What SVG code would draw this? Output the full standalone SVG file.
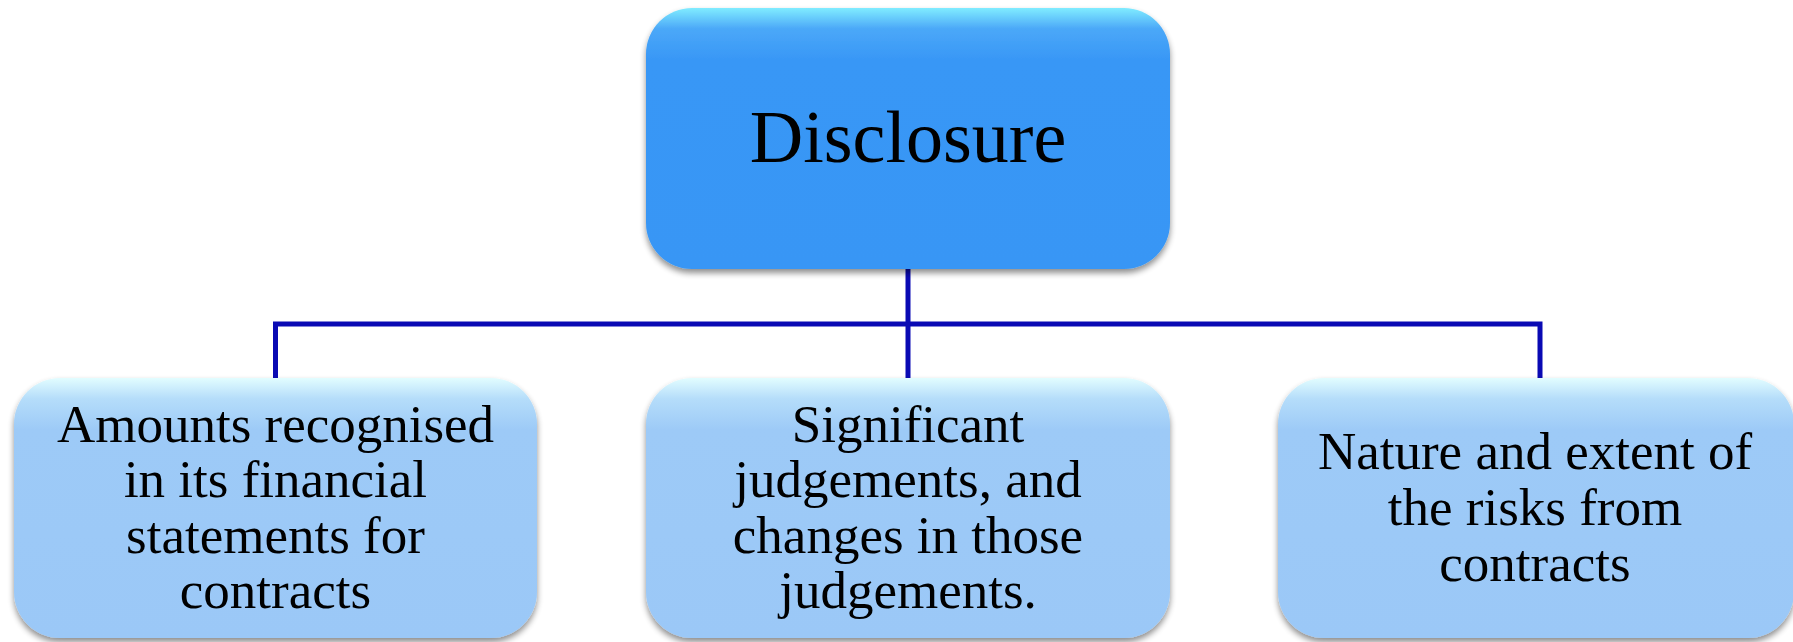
<svg xmlns="http://www.w3.org/2000/svg" width="1793" height="642" viewBox="0 0 1793 642">
<style>
  .lbl { font-family: "Liberation Serif", "Times New Roman", serif; fill: #000; text-anchor: middle; }
  .top { font-size: 74px; }
  .sub { font-size: 53px; }
  .conn { stroke: #0A0AB4; stroke-width: 5; fill: none; }
</style>
<defs>
  <linearGradient id="gTop" x1="0" y1="0" x2="0" y2="1">
    <stop offset="0" stop-color="#80ECFF"/>
    <stop offset="0.08" stop-color="#4BA8F8"/>
    <stop offset="0.2" stop-color="#3897F6"/>
    <stop offset="1" stop-color="#3796F5"/>
  </linearGradient>
  <linearGradient id="gSub" x1="0" y1="0" x2="0" y2="1">
    <stop offset="0" stop-color="#E2FDFF"/>
    <stop offset="0.08" stop-color="#B5DDFA"/>
    <stop offset="0.2" stop-color="#9DCAF7"/>
    <stop offset="1" stop-color="#9BC8F7"/>
  </linearGradient>
  <filter id="sh" x="-5%" y="-5%" width="110%" height="115%">
    <feGaussianBlur in="SourceAlpha" stdDeviation="3"/>
    <feOffset dx="0" dy="4" result="b"/>
    <feComponentTransfer><feFuncA type="linear" slope="0.45"/></feComponentTransfer>
    <feMerge><feMergeNode/><feMergeNode in="SourceGraphic"/></feMerge>
  </filter>
</defs>
<rect width="1793" height="642" fill="#FFFFFF"/>
<g id="connectors">
  <path class="conn" d="M908 266 V378"/>
  <path class="conn" d="M275.5 378 V324 H1540 V378"/>
</g>
<g id="node-disclosure">
  <rect x="646" y="8" width="524" height="261" rx="46" fill="url(#gTop)" filter="url(#sh)"/>
  <text class="lbl top" x="908" y="162">Disclosure</text>
</g>
<g id="node-amounts">
  <rect x="14" y="378" width="523" height="260" rx="46" fill="url(#gSub)" filter="url(#sh)"/>
  <text class="lbl sub" x="275.5" y="442">Amounts recognised</text>
  <text class="lbl sub" x="275.5" y="497">in its financial</text>
  <text class="lbl sub" x="275.5" y="553">statements for</text>
  <text class="lbl sub" x="275.5" y="608">contracts</text>
</g>
<g id="node-judgements">
  <rect x="646" y="378" width="524" height="260" rx="46" fill="url(#gSub)" filter="url(#sh)"/>
  <text class="lbl sub" x="908" y="442">Significant</text>
  <text class="lbl sub" x="908" y="497">judgements, and</text>
  <text class="lbl sub" x="908" y="553">changes in those</text>
  <text class="lbl sub" x="908" y="608">judgements.</text>
</g>
<g id="node-risks">
  <rect x="1278" y="378" width="516" height="260" rx="46" fill="url(#gSub)" filter="url(#sh)"/>
  <text class="lbl sub" x="1535" y="469">Nature and extent of</text>
  <text class="lbl sub" x="1535" y="525">the risks from</text>
  <text class="lbl sub" x="1535" y="581">contracts</text>
</g>
</svg>
